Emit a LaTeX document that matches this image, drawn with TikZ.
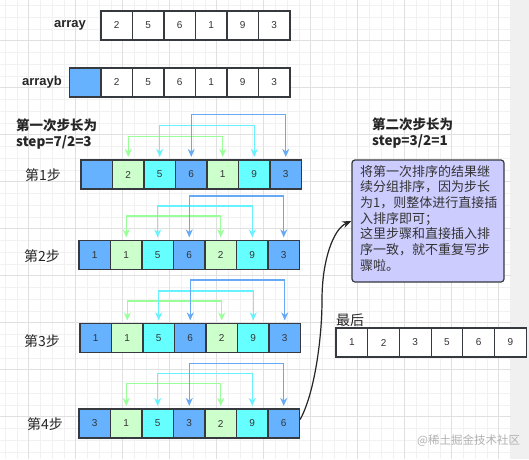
\documentclass[tikz,border=0pt]{standalone}
\usepackage{fontspec}
\setmainfont{Liberation Sans}
\newfontfamily\cjk{Noto Sans CJK SC}
\usetikzlibrary{arrows.meta,calc}
\definecolor{cblue}{HTML}{66B2FF}
\definecolor{ccyan}{HTML}{66FFFF}
\definecolor{cgreen}{HTML}{CCFFCC}
\definecolor{agreen}{HTML}{99FF99}
\definecolor{ablue}{HTML}{66A9F5}
\definecolor{acyan}{HTML}{66F2FF}
\definecolor{cborder}{HTML}{36393D}
\definecolor{cnote}{HTML}{CCCCFF}
\definecolor{gminor}{HTML}{F1F1F1}
\definecolor{gmajor}{HTML}{E0E0E0}
\definecolor{cstrip}{HTML}{F0F0F0}
\tikzset{
  cell/.style={draw=cborder, line width=1.2pt, minimum width=31.5pt, minimum height=29pt,
    inner sep=0pt, text=black!80, font=\fontsize{10}{12}\selectfont},
  fcell/.style={cell, minimum width=31.7pt},
  lblbold/.style={font=\bfseries\fontsize{13}{15}\selectfont, text=black!85, inner sep=0pt},
  steplbl/.style={font=\cjk\fontsize{14}{16}\selectfont, text=black!85, inner sep=0pt},
  headlbl/.style={font=\cjk\bfseries\fontsize{13.5}{17}\selectfont, text=black!85, inner sep=0pt, align=left},
  pairarrow/.style={line width=1.3pt, {Stealth[length=8pt,width=7pt]}-{Stealth[length=8pt,width=7pt]}, shorten <=2.5pt, shorten >=2.5pt},
  garrow/.style={pairarrow, draw=agreen},
  carrow/.style={pairarrow, draw=acyan},
  barrow/.style={pairarrow, draw=ablue},
  notebox/.style={draw=cborder, line width=1.2pt, fill=cnote, rounded corners=3pt,
    minimum width=152pt, minimum height=122pt, inner sep=0pt},
  notetext/.style={font=\cjk\fontsize{13}{15.7}\selectfont, text=black!80, align=left, inner sep=0pt},
  curvearrow/.style={draw=black!85, line width=1.2pt, -{Stealth[length=9pt,width=7pt]}}
}
\begin{document}
\begin{tikzpicture}[x=1pt,y=-1pt]
\useasboundingbox (0,0) rectangle (529,459);
% background
\fill[white] (0,0) rectangle (511,459);
\fill[cstrip] (511,0) rectangle (529,459);
\foreach \k in {0,...,43} { \pgfmathsetmacro\gx{5.2+\k*11.75} \draw[gminor, line width=0.6pt] (\gx,0) -- (\gx,459); }
\foreach \k in {0,...,38} { \pgfmathsetmacro\gy{5.45+\k*11.75} \draw[gminor, line width=0.6pt] (0,\gy) -- (511,\gy); }
\foreach \k in {2,6,...,42} { \pgfmathsetmacro\gx{5.2+\k*11.75} \draw[gmajor, line width=0.6pt] (\gx,0) -- (\gx,459); }
\foreach \k in {3,7,...,35} { \pgfmathsetmacro\gy{5.45+\k*11.75} \draw[gmajor, line width=0.6pt] (0,\gy) -- (511,\gy); }

% array
\node[lblbold] (tarray) at (70,25) {array};
\foreach \v [count=\i from 0] in {2,5,6,1,9,3}
  \node[cell, fill=white] (a\i) at (101+15.75+\i*31.5, 25.5) {\v};
% arrayb
\node[lblbold] (tarrayb) at (42,82) {arrayb};
\node[cell, fill=cblue] (bx) at (70+15.5, 82.5) {};
\foreach \v [count=\i from 0] in {2,5,6,1,9,3}
  \node[cell, fill=white] (b\i) at (101+15.75+\i*31.5, 82.5) {\v};

% headings
\node[headlbl, anchor=west] (h1) at (16,125) {第一次步长为};
\node[headlbl, anchor=west] (h1b) at (16,142) {step=7/2=3};
\node[headlbl, anchor=west] (h2) at (372,124) {第二次步长为};
\node[headlbl, anchor=west] (h2b) at (372,141) {step=3/2=1};

% step rows
\foreach \v/\c [count=\i from 0] in {{}/cblue,2/cgreen,5/ccyan,6/cblue,1/cgreen,9/ccyan,3/cblue}
  \node[cell, fill=\c] (s1c\i) at (81+15.75+\i*31.5, 174.5) {\v};
\foreach \v/\c [count=\i from 0] in {1/cblue,1/cgreen,5/ccyan,6/cblue,2/cgreen,9/ccyan,3/cblue}
  \node[cell, fill=\c] (s2c\i) at (79+15.75+\i*31.5, 255) {\v};
\foreach \v/\c [count=\i from 0] in {1/cblue,1/cgreen,5/ccyan,6/cblue,2/cgreen,9/ccyan,3/cblue}
  \node[cell, fill=\c] (s3c\i) at (80+15.75+\i*31.5, 338) {\v};
\foreach \v/\c [count=\i from 0] in {3/cblue,1/cgreen,5/ccyan,3/cblue,2/cgreen,9/ccyan,6/cblue}
  \node[cell, fill=\c] (s4c\i) at (79+15.75+\i*31.5, 423.5) {\v};

\node[steplbl] (l1) at (43,175) {第1步};
\node[steplbl] (l2) at (42,256) {第2步};
\node[steplbl] (l3) at (42,341) {第3步};
\node[steplbl] (l4) at (45,424) {第4步};

% pair arrows
\draw[garrow] (s1c1.north) -- ++(0,-23) -| (s1c4.north);
\draw[carrow] (s1c2.north) -- ++(0,-34) -| (s1c5.north);
\draw[barrow] (s1c3.north) -- ++(0,-45) -| (s1c6.north);
\draw[garrow] (s2c1.north) -- ++(0,-24) -| (s2c4.north);
\draw[carrow] (s2c2.north) -- ++(0,-34) -| (s2c5.north);
\draw[barrow] (s2c3.north) -- ++(0,-44) -| (s2c6.north);
\draw[garrow] (s3c1.north) -- ++(0,-22) -| (s3c4.north);
\draw[carrow] (s3c2.north) -- ++(0,-32) -| (s3c5.north);
\draw[barrow] (s3c3.north) -- ++(0,-43) -| (s3c6.north);
\draw[garrow] (s4c1.north) -- ++(0,-25) -| (s4c4.north);
\draw[carrow] (s4c2.north) -- ++(0,-35) -| (s4c5.north);
\draw[barrow] (s4c3.north) -- ++(0,-45) -| (s4c6.north);

% note
\node[notebox] (note) at (428,221) {};
\node[notetext, anchor=north west] (notet) at (360,165) {将第一次排序的结果继\\续分组排序，因为步长\\为1，则整体进行直接插\\入排序即可；\\这里步骤和直接插入排\\序一致，就不重复写步\\骤啦。};

% curve
\coordinate (mid) at (322,300);
\coordinate (cstart) at ($(s4c6.east)+(0,-4)$);
\draw[curvearrow] (cstart) .. controls +(14,-25) and +(0,40) .. (mid) .. controls +(0,-40) and +(-18,8) .. (note.west);

% final
\node[steplbl, anchor=west] (last) at (336,320) {最后};
\foreach \v [count=\i from 0] in {1,2,3,5,6,9}
  \node[fcell, fill=white] (f\i) at (336+15.85+\i*31.7, 342.5) {\v};

% watermark
\node[font=\cjk\fontsize{11.5}{13}\selectfont, text=black!30, inner sep=0pt, anchor=west] (wm) at (417,441) {@稀土掘金技术社区};
\end{tikzpicture}
\end{document}
